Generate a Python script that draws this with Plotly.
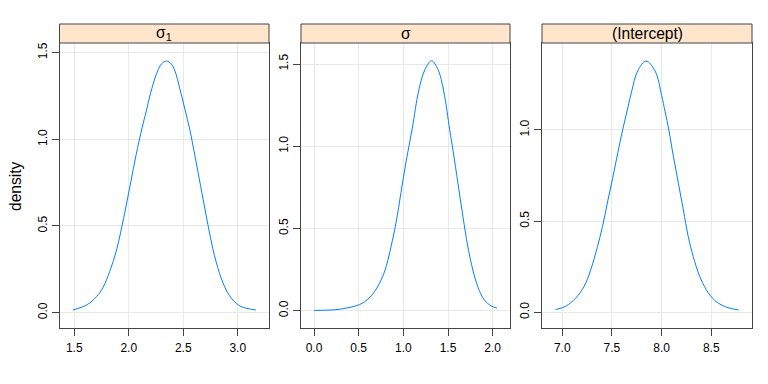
import plotly.graph_objects as go

# ---- data ----
panel_titles = ["σ<sub>1</sub>", "σ", "(Intercept)"]

sigma1_x = [1.488, 1.614, 1.705, 1.765, 1.825, 1.886, 1.93, 1.976, 2.021, 2.066, 2.124, 2.16,
            2.2, 2.256, 2.30, 2.348, 2.39, 2.424, 2.47, 2.515, 2.561, 2.60, 2.636, 2.682,
            2.727, 2.773, 2.833, 2.894, 2.955, 3.03, 3.167]
sigma1_density = [0.015, 0.044, 0.092, 0.146, 0.237, 0.355, 0.475, 0.615, 0.76, 0.905, 1.07, 1.16,
                  1.265, 1.38, 1.435, 1.452, 1.435, 1.395, 1.29, 1.175, 1.054, 0.93, 0.81, 0.655,
                  0.506, 0.365, 0.227, 0.131, 0.073, 0.035, 0.015]

sigma_x = [0.0, 0.23, 0.379, 0.509, 0.602, 0.677, 0.751, 0.807, 0.862, 0.918, 0.974, 1.03,
           1.1, 1.174, 1.241, 1.315, 1.389, 1.452, 1.519, 1.556, 1.611, 1.667, 1.722,
           1.778, 1.833, 1.907, 1.981, 2.048]
sigma_density = [0.002, 0.006, 0.018, 0.037, 0.069, 0.116, 0.187, 0.268, 0.39, 0.535, 0.72, 0.905,
                 1.11, 1.344, 1.465, 1.52, 1.465, 1.335, 1.10, 0.975, 0.776, 0.573, 0.39,
                 0.248, 0.146, 0.065, 0.03, 0.016]

intercept_x = [6.932, 7.034, 7.135, 7.22, 7.287, 7.355, 7.405, 7.456, 7.507, 7.557, 7.608, 7.659,
               7.70, 7.76, 7.843, 7.933, 8.0, 8.035, 8.073, 8.119, 8.169, 8.219, 8.268,
               8.318, 8.384, 8.45, 8.533, 8.649, 8.775]
intercept_density = [0.015, 0.033, 0.078, 0.142, 0.234, 0.361, 0.471, 0.605, 0.735, 0.87, 1.0, 1.12,
                     1.215, 1.325, 1.378, 1.325, 1.19, 1.10, 1.0, 0.854, 0.708, 0.562, 0.416,
                     0.307, 0.197, 0.124, 0.066, 0.029, 0.013]

x_ticks = [[1.5, 2.0, 2.5, 3.0], [0.0, 0.5, 1.0, 1.5, 2.0], [7.0, 7.5, 8.0, 8.5]]
y_ticks = [[0.0, 0.5, 1.0, 1.5], [0.0, 0.5, 1.0, 1.5], [0.0, 0.5, 1.0]]

# ---- layout geometry (page body adds an 8px offset) ----
W, H = 768, 384
OX, OY = 8, 8
def px_x(p):
    return (p - OX) / W
def px_y(p):
    return 1 - (p - OY) / H

x_doms = [(px_x(59.5), px_x(269)), (px_x(301), px_x(510)), (px_x(542), px_x(752))]
y_dom = (px_y(328), px_y(43))
strip_top = px_y(24)
x_ranges = [[1.365, 3.287], [-0.146, 2.194], [6.796, 8.91]]
y_ranges = [[-0.089, 1.556], [-0.105, 1.628], [-0.086, 1.477]]

series = [(sigma1_x, sigma1_density), (sigma_x, sigma_density), (intercept_x, intercept_density)]

fig = go.Figure()
font = dict(family="Liberation Sans, Arial, sans-serif", size=12, color="#000")
big_font = dict(family="Liberation Sans, Arial, sans-serif", size=15.6, color="#000")
frame_col = "#444"
grid_col = "#e8e8e8"

layout = dict(
    width=W, height=H, margin=dict(l=0, r=0, t=0, b=0, autoexpand=False),
    paper_bgcolor="white", plot_bgcolor="white", showlegend=False, font=font,
    shapes=[], annotations=[],
)

for i, (xs, ys) in enumerate(series):
    n = "" if i == 0 else str(i + 1)
    fig.add_trace(go.Scatter(x=xs, y=ys, mode="lines",
                             line=dict(color="#0080ff", width=1, shape="spline", smoothing=1.0),
                             xaxis="x" + n, yaxis="y" + n, hoverinfo="skip"))
    layout["xaxis" + n] = dict(
        domain=list(x_doms[i]), range=x_ranges[i], anchor="y" + n,
        tickvals=x_ticks[i], ticktext=["%.1f" % v for v in x_ticks[i]],
        ticks="outside", ticklen=7, tickcolor=frame_col, showline=True, linecolor=frame_col, linewidth=1,
        mirror=True, showgrid=True, gridcolor=grid_col, gridwidth=1, zeroline=False,
        tickfont=font, fixedrange=True, ticklabelstandoff=2,
    )
    layout["yaxis" + n] = dict(
        domain=list(y_dom), range=y_ranges[i], anchor="x" + n,
        tickvals=y_ticks[i], ticktext=["%.1f" % v for v in y_ticks[i]], tickangle=-90,
        ticks="outside", ticklen=7, tickcolor=frame_col, showline=True, linecolor=frame_col, linewidth=1,
        mirror=True, showgrid=True, gridcolor=grid_col, gridwidth=1, zeroline=False,
        tickfont=font, fixedrange=True,
    )
    # strip
    layout["shapes"].append(dict(type="rect", xref="paper", yref="paper",
                                 x0=x_doms[i][0], x1=x_doms[i][1], y0=y_dom[1], y1=strip_top,
                                 fillcolor="#ffe5cc", line=dict(color=frame_col, width=1), layer="above"))
    layout["annotations"].append(dict(xref="paper", yref="paper", x=(x_doms[i][0] + x_doms[i][1]) / 2,
                                      y=(y_dom[1] + strip_top) / 2, text=panel_titles[i], showarrow=False,
                                      font=big_font, xanchor="center", yanchor="middle"))

layout["annotations"].append(dict(xref="paper", yref="paper", x=px_x(15), y=px_y(186), text="density",
                                  textangle=-90, showarrow=False, font=big_font,
                                  xanchor="center", yanchor="middle"))

fig.update_layout(**layout)
fig.write_html("out.html")
